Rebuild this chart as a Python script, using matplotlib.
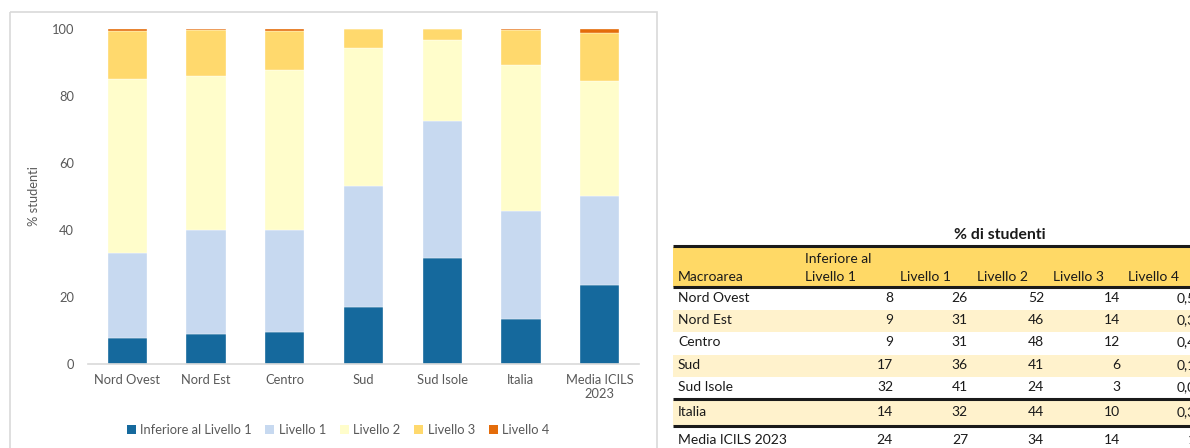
"""
Stacked bars of ICILS proficiency levels by macro-area, with the summary table beside it.
"""

import matplotlib
matplotlib.use("Agg")
import numpy as np
import matplotlib.pyplot as plt
from matplotlib.patches import Rectangle, Patch

plt.rcParams["font.family"] = ["Lato", "DejaVu Sans"]

# chart data (% studenti)
areas = ["Nord Ovest", "Nord Est", "Centro", "Sud", "Sud Isole", "Italia", "Media ICILS\n2023"]
inferiore = [7.9, 9.0, 9.5, 17.1, 31.5, 13.5, 23.6]
livello1 = [25.3, 31.1, 30.6, 36.1, 41.0, 32.1, 26.6]
livello2 = [51.8, 45.8, 47.8, 41.1, 24.3, 43.7, 34.3]
livello3 = [14.5, 13.7, 11.6, 5.6, 3.2, 10.4, 14.4]
livello4 = [0.5, 0.4, 0.5, 0.1, 0.0, 0.3, 1.1]

series_names = ["Inferiore al Livello 1", "Livello 1", "Livello 2", "Livello 3", "Livello 4"]
colors = ["#15699d", "#c7d9f0", "#fffdcb", "#ffd96d", "#e46c0a"]

# table data (as printed)
table_rows = ["Nord Ovest", "Nord Est", "Centro", "Sud", "Sud Isole", "Italia", "Media ICILS 2023"]
tab_inf = ["8", "9", "9", "17", "32", "14", "24"]
tab_l1 = ["26", "31", "31", "36", "41", "32", "27"]
tab_l2 = ["52", "46", "48", "41", "24", "44", "34"]
tab_l3 = ["14", "14", "12", "6", "3", "10", "14"]
tab_l4 = ["0,5", "0,3", "0,4", "0,1", "0,0", "0,3", "1"]

W, H = 1190, 448
fig = plt.figure(figsize=(W / 100, H / 100), dpi=100)

# overlay in pixel coordinates for the chart frame and the table
ov = fig.add_axes([0, 0, 1, 1], zorder=0)
ov.set_xlim(0, W)
ov.set_ylim(H, 0)
ov.axis("off")
ov.patch.set_alpha(0)

ov.add_patch(Rectangle((10, 12), 647, 460, fill=False, edgecolor="#d9d9d9", linewidth=1.2))

# ---- bar chart ----
ax = fig.add_axes([88 / W, 1 - 364 / H, 551 / W, 335 / H], zorder=2)
ax.patch.set_alpha(0)
x = np.arange(len(areas))
bottom = np.zeros(len(areas))
for name, vals, c in zip(series_names, [inferiore, livello1, livello2, livello3, livello4], colors):
    ax.bar(x, vals, bottom=bottom, width=0.5, color=c, edgecolor="white", linewidth=0.25, label=name)
    bottom += np.array(vals)

ax.set_xlim(-0.5, len(areas) - 0.5)
ax.set_ylim(0, 100)
ax.set_yticks([0, 20, 40, 60, 80, 100])
ax.set_xticks(x)
ax.set_xticklabels(areas)
for s in ["top", "right", "left"]:
    ax.spines[s].set_visible(False)
ax.spines["bottom"].set_color("#d9d9d9")
ax.spines["bottom"].set_linewidth(1.2)
ax.tick_params(axis="both", length=0, labelsize=9.3, labelcolor="#595959")
ax.tick_params(axis="x", pad=7)
ax.tick_params(axis="y", pad=10)
ax.set_ylabel("% studenti", fontsize=9.3, color="#595959")
ax.yaxis.set_label_coords(-0.087, 0.5)

handles = [Patch(facecolor=c, edgecolor="none") for c in colors]
fig.legend(handles, series_names, loc="center", bbox_to_anchor=(338 / W, 1 - 430 / H),
           ncol=5, frameon=False, fontsize=9.3, handlelength=0.7, handleheight=0.7,
           handletextpad=0.35, columnspacing=1.05, labelcolor="#595959")

# ---- table ----
tx0, tx1 = 673, W
ov.text(1000, 235, "% di studenti", ha="center", va="center", fontsize=11.3, fontweight="bold", color="#1a1a1a")
ov.add_patch(Rectangle((tx0, 247), tx1 - tx0, 40, facecolor="#ffd966", edgecolor="none"))
for yb in [310, 355]:
    ov.add_patch(Rectangle((tx0, yb), tx1 - tx0, 22, facecolor="#fff2cc", edgecolor="none"))
ov.add_patch(Rectangle((tx0, 400), tx1 - tx0, 26, facecolor="#fff2cc", edgecolor="none"))
for yl in [246.5, 287.5, 399.5, 426.5]:
    ov.plot([tx0, tx1], [yl, yl], color="#1a1a1a", linewidth=2.2, solid_capstyle="butt")

hdr_kw = dict(va="center", fontsize=10, color="#1a1a1a")
ov.text(678, 277, "Macroarea", ha="left", **hdr_kw)
ov.text(805, 259, "Inferiore al", ha="left", **hdr_kw)
ov.text(805, 277, "Livello 1", ha="left", **hdr_kw)
for xh, lab in zip([900, 977, 1053, 1128], ["Livello 1", "Livello 2", "Livello 3", "Livello 4"]):
    ov.text(xh, 277, lab, ha="left", **hdr_kw)

row_y = [298, 320, 342, 365, 387, 412, 440]
col_right = [893, 968, 1044, 1120, 1196]
for i, name in enumerate(table_rows):
    ov.text(678, row_y[i], name, ha="left", **hdr_kw)
    for xr, col in zip(col_right, [tab_inf, tab_l1, tab_l2, tab_l3, tab_l4]):
        ov.text(xr, row_y[i], col[i], ha="right", **hdr_kw)

fig.savefig("out.png", dpi=100)
print("Saved out.png")
